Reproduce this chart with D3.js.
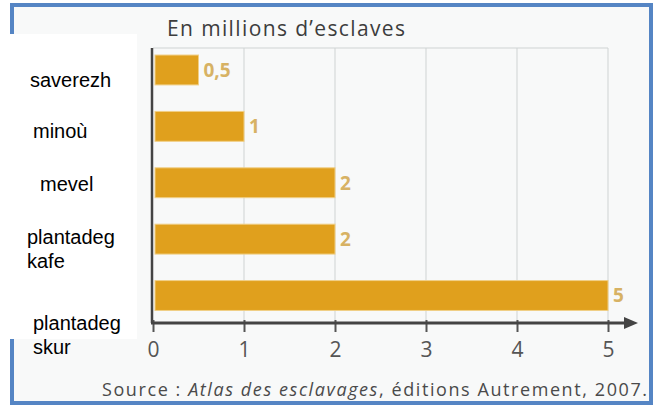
<!DOCTYPE html>
<html>
<head>
<meta charset="utf-8">
<script src="https://cdn.jsdelivr.net/npm/d3@7/dist/d3.min.js"></script>
<style>
  body { margin: 0; background: #fff; }
  svg { display: block; }
</style>
</head>
<body>
<script>
var width = 657;
var height = 406;

// données
var categories = ["saverezh", "minoù", "mevel", "plantadeg kafe", "plantadeg skur"];
var values = [0.5, 1, 2, 2, 5];
var valueLabels = ["0,5", "1", "2", "2", "5"];
var xTicks = [0, 1, 2, 3, 4, 5];
var title = "En millions d’esclaves";

// décalage des étiquettes collées à gauche (mise en page)
var labelShift = [10, 5, 1, 10, 39];
var labelX = [30, 33, 40, 27, 33];

var svg = d3.select("body")
  .append("svg")
  .attr("width", width)
  .attr("height", height);

// fond + cadre bleu
svg.append("rect")
  .attr("x", 12).attr("y", 5)
  .attr("width", 639).attr("height", 398)
  .attr("fill", "#f8f9f9")
  .attr("stroke", "#5585c4")
  .attr("stroke-width", 4);

var x = d3.scaleLinear()
  .domain([0, 5])
  .range([153, 608]);

var y = d3.scaleBand()
  .domain(categories)
  .range([41.5, 324])
  .paddingInner(0.47)
  .paddingOuter(0.24);

var topY = 48, axisY = 323;

// grille
svg.append("g")
  .selectAll("line")
  .data(xTicks.slice(1))
  .join("line")
  .attr("x1", function (d) { return x(d); })
  .attr("x2", function (d) { return x(d); })
  .attr("y1", topY)
  .attr("y2", axisY)
  .attr("stroke", "#cfd3d3")
  .attr("stroke-width", 1);

svg.append("line")
  .attr("x1", x(0)).attr("x2", x(5))
  .attr("y1", topY).attr("y2", topY)
  .attr("stroke", "#cfd3d3");

// barres
svg.append("g")
  .selectAll("rect")
  .data(values)
  .join("rect")
  .attr("x", x(0) + 2)
  .attr("y", function (d, i) { return y(categories[i]); })
  .attr("width", function (d) { return x(d) - x(0) - 2; })
  .attr("height", y.bandwidth())
  .attr("fill", "#e0a01d")
  .attr("stroke", "#f0cf86")
  .attr("stroke-width", 1);

// valeurs
svg.append("g")
  .selectAll("text")
  .data(values)
  .join("text")
  .attr("x", function (d) { return x(d) + 5; })
  .attr("y", function (d, i) { return y(categories[i]) + y.bandwidth() / 2; })
  .attr("dy", "0.36em")
  .attr("font-family", "Open Sans, sans-serif")
  .attr("font-weight", "bold")
  .attr("font-size", 19)
  .attr("fill", "#d7b264")
  .text(function (d, i) { return valueLabels[i]; });

// axe vertical
svg.append("line")
  .attr("x1", x(0) - 1).attr("x2", x(0) - 1)
  .attr("y1", topY).attr("y2", axisY)
  .attr("stroke", "#444").attr("stroke-width", 2.5);

// axe horizontal
var xAxis = d3.axisBottom(x)
  .tickValues(xTicks)
  .tickSizeInner(9)
  .tickSizeOuter(0)
  .tickPadding(10)
  .tickFormat(d3.format("d"));

var gx = svg.append("g")
  .attr("transform", "translate(0," + axisY + ")")
  .call(xAxis);

gx.select(".domain").remove();
gx.selectAll(".tick line")
  .attr("y1", -3)
  .attr("stroke", "#555")
  .attr("stroke-width", 2);
gx.selectAll(".tick text")
  .attr("font-family", "Open Sans, sans-serif")
  .attr("font-size", 21)
  .attr("fill", "#555");

gx.append("line")
  .attr("x1", x(0) - 2).attr("x2", 628)
  .attr("y1", 0).attr("y2", 0)
  .attr("stroke", "#444").attr("stroke-width", 3);
gx.append("path")
  .attr("d", "M624,-6L638,0L624,6Z")
  .attr("fill", "#444");

// titre
svg.append("text")
  .attr("x", 167).attr("y", 36)
  .attr("font-family", "Open Sans, sans-serif")
  .attr("font-size", 21)
  .attr("fill", "#3d3d3d")
  .attr("textLength", 238)
  .text(title);

// source
var src = svg.append("text")
  .attr("x", 102).attr("y", 396)
  .attr("font-family", "Open Sans, sans-serif")
  .attr("font-size", 18)
  .attr("fill", "#4a4a4a")
  .attr("textLength", 545);
src.append("tspan").text("Source : ");
src.append("tspan").attr("font-style", "italic").text("Atlas des esclavages");
src.append("tspan").text(", éditions Autrement, 2007.");

// boîte blanche des étiquettes
svg.append("rect")
  .attr("x", 10).attr("y", 34)
  .attr("width", 127).attr("height", 305)
  .attr("fill", "#fff");

var lab = svg.append("g")
  .selectAll("text")
  .data(categories)
  .join("text")
  .attr("x", function (d, i) { return labelX[i]; })
  .attr("y", function (d, i) { return y(d) + y.bandwidth() / 2 + labelShift[i]; })
  .attr("font-family", "Liberation Sans, Arial, sans-serif")
  .attr("font-size", 20)
  .attr("fill", "#000");

lab.each(function (d) {
  var words = d.split(" ");
  var t = d3.select(this);
  words.forEach(function (w, k) {
    t.append("tspan")
      .attr("x", t.attr("x"))
      .attr("dy", k === 0 ? (words.length > 1 ? "-0.25em" : "0.35em") : "1.2em")
      .text(w);
  });
});
</script>
</body>
</html>
